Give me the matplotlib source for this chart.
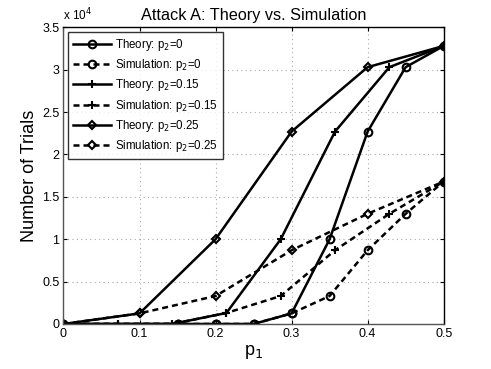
import matplotlib
matplotlib.use("Agg")
import matplotlib.pyplot as plt

plt.rcParams['font.family'] = ['Liberation Sans', 'DejaVu Sans']

# data (values in units of 1e4 trials)
x_p0 = [0, 0.15, 0.2, 0.25, 0.3, 0.35, 0.4, 0.45, 0.5]
theory_p0 = [0, 0, 0, 0, 0.125, 1.0, 2.27, 3.03, 3.28]
sim_p0 = [0, 0, 0, 0, 0.125, 0.33, 0.87, 1.30, 1.68]

x_p15 = [0, 0.0714, 0.1429, 0.2143, 0.2857, 0.3571, 0.4286, 0.5]
theory_p15 = [0, 0, 0, 0.13, 1.0, 2.27, 3.03, 3.28]
sim_p15 = [0, 0, 0, 0.13, 0.33, 0.87, 1.30, 1.68]

x_p25 = [0, 0.1, 0.2, 0.3, 0.4, 0.5]
theory_p25 = [0, 0.125, 1.0, 2.27, 3.03, 3.28]
sim_p25 = [0, 0.125, 0.33, 0.87, 1.30, 1.68]

xticks = [0, 0.1, 0.2, 0.3, 0.4, 0.5]
xticklabels = ['0', '0.1', '0.2', '0.3', '0.4', '0.5']
yticks = [0, 0.5, 1, 1.5, 2, 2.5, 3, 3.5]
yticklabels = ['0', '0.5', '1', '1.5', '2', '2.5', '3', '3.5']

fig = plt.figure(figsize=(4.91, 3.69), dpi=100)
ax = fig.add_axes([0.1293, 0.122, 0.7743, 0.804])

lw = 1.8
dash = (0, (2.4, 1.6))
common = dict(color='black', linewidth=lw, markeredgewidth=1.5)
ax.plot(x_p0, theory_p0, linestyle='-', marker='o', markersize=5.5, fillstyle='none',
        label='Theory: p$_2$=0', **common)
ax.plot(x_p0, sim_p0, linestyle=dash, marker='o', markersize=5.5, fillstyle='none',
        label='Simulation: p$_2$=0', **common)
ax.plot(x_p15, theory_p15, linestyle='-', marker='+', markersize=6,
        label='Theory: p$_2$=0.15', **common)
ax.plot(x_p15, sim_p15, linestyle=dash, marker='+', markersize=6,
        label='Simulation: p$_2$=0.15', **common)
ax.plot(x_p25, theory_p25, linestyle='-', marker='D', markersize=4.5, fillstyle='none',
        label='Theory: p$_2$=0.25', **common)
ax.plot(x_p25, sim_p25, linestyle=dash, marker='D', markersize=4.5, fillstyle='none',
        label='Simulation: p$_2$=0.25', **common)

ax.set_xlim(0, 0.5)
ax.set_ylim(0, 3.5)
ax.set_xticks(xticks)
ax.set_xticklabels(xticklabels)
ax.set_yticks(yticks)
ax.set_yticklabels(yticklabels)
ax.tick_params(direction='in', top=True, right=True, labelsize=9, length=3, pad=3)
ax.grid(True, linestyle=(0, (1, 3)), color='#aaaaaa', linewidth=0.8)
for s in ['left', 'bottom']:
    ax.spines[s].set_color('#555555')
for s in ax.spines.values():
    s.set_linewidth(1.0)

ax.set_title('Attack A: Theory vs. Simulation', fontsize=11.7, pad=5)
ax.set_xlabel('p$_1$', fontsize=13, labelpad=2)
ax.set_ylabel('Number of Trials', fontsize=13)
ax.yaxis.set_label_coords(-0.066, 0.5)
ax.text(0.0, 1.012, 'x 10$^4$', transform=ax.transAxes, fontsize=8.5, ha='left', va='bottom')

leg = ax.legend(loc='upper left', fontsize=8.3, frameon=True, fancybox=False,
                edgecolor='black', handlelength=3.3, borderaxespad=0.4,
                labelspacing=0.36, handletextpad=0.35, borderpad=0.45)
leg.get_frame().set_linewidth(1.0)

fig.savefig('out.png', dpi=100)
